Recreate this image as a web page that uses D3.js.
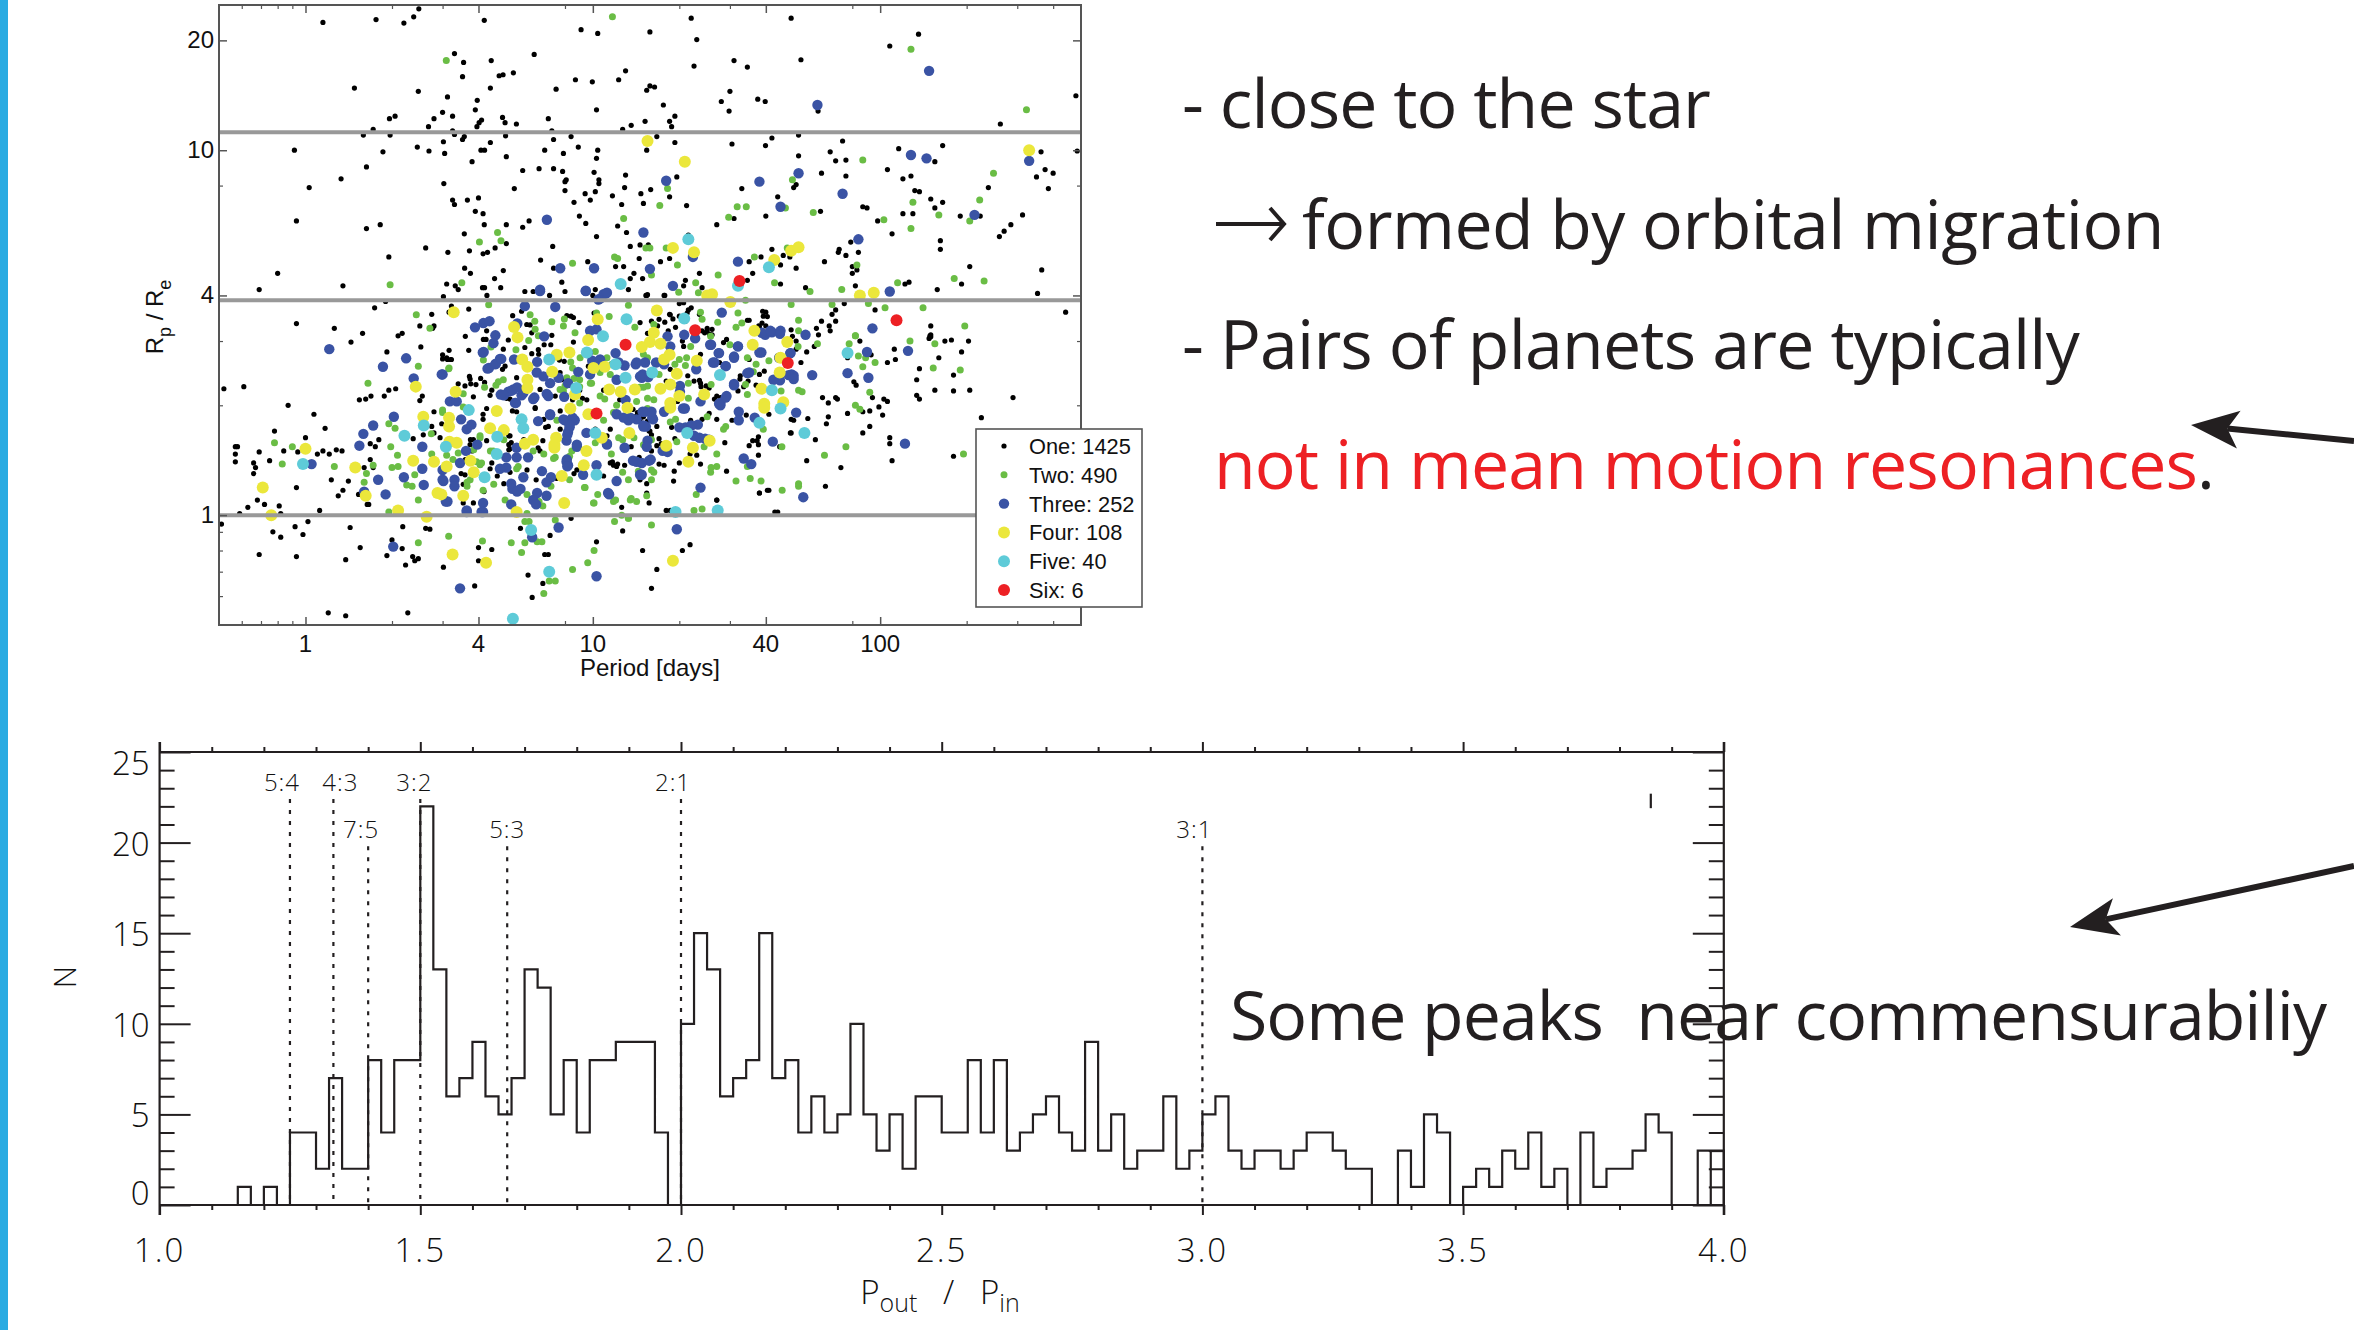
<!DOCTYPE html>
<html>
<head>
<meta charset="utf-8">
<script src="https://d3js.org/d3.v7.min.js"></script>
<style>
  html, body { margin: 0; padding: 0; background: #fff; }
  svg { display: block; }
  .sans { font-family: "Liberation Sans", Arial, sans-serif; fill: #111; }
  .idl { font-family: "Open Sans", sans-serif; font-weight: 300; fill: #111; }
  .slide { font-family: "Open Sans", sans-serif; fill: #231f20; }
</style>
</head>
<body>
<svg id="chart"></svg>
<script>
// planets per system size: [period in days, radius in earth radii]
let one_planets = [[1.15,22.4],[1.76,22.8],[2.2,22.3],[2.38,23.2],[2.48,24.4],[4.19,22.7],[9.1,21.4],[10.4,20.9],[15.8,21.1],[3.3,18.4],[3.55,17.4],[4.43,17.6],[6.25,18.3],[13,16.5],[1.48,14.8],[3.52,15.9],[4.4,14.8],[4.72,16],[4.87,16.1],[5.29,16.3],[8.7,15.6],[9.96,15.4],[12.3,15.6],[7.45,14.7],[15.4,14.6],[15.8,15],[2.47,14.5],[3.12,14],[3.96,13.7],[3.9,12.9],[10.3,12.9],[3,12.7],[2.05,12.4],[1.96,12.2],[3.25,12.4],[2.8,12.2],[4.85,12.3],[4.95,11.9],[4.1,12.1],[4.02,11.9],[3.95,11.6],[5.42,11.8],[7,12.2],[13.6,11.7],[2.68,11.6],[12.7,11.4],[1.72,11.4],[3.25,11.3],[7.2,11.3],
[1.59,11],[1.97,11],[3.3,11.05],[3.57,10.9],[3.52,10.7],[4.97,10.95],[8.4,10.9],[7.3,10.7],[3.02,10.55],[4.4,10.5],[2.45,10.2],[2.69,9.95],[3.05,9.8],[4.08,10],[4.2,10],[1.86,9.9],[0.915,10],[8.9,10.2],[6.8,10],[10.4,10],[7.9,9.8],[5,9.6],[15.4,10],[10.3,9.5],[3.8,9.3],[1.63,9],[5.7,8.8],[6.5,8.9],[7.3,8.9],[7.85,8.75],[10.1,8.7],[13,8.55],[1.33,8.35],[10.5,8.3],[10.5,8.1],[8.08,8.3],[8,8.2],[3.03,8.1],[1.03,7.9],[8,7.75],[5.33,7.85],[12.9,7.9],[10.2,7.7],[9.4,7.6],[14.7,7.6],[9.8,7.3],[3.66,7.3],[4,7.4],[3.25,7.3],[3.3,7.1],[11.7,7.5],[8.6,7.2],[12.6,7.1],[3.9,6.8],[4.15,6.7],[8.98,6.6],[0.93,6.4],[4.19,6.25],[1.63,6.1],[1.82,6.25],[5,6.25],[6,6.4],[5.7,6.15],[9.45,6.3],[12.2,6.2],[13.1,5.95],[3.57,5.9],[10.3,5.8],[2.62,5.4],[5,5.55],[7.25,5.45],[13.5,5.45],[14.6,5.5],[15.6,5.5],[4.57,5.4],[4.3,5.25],[4.15,5.2],[3.72,5.3],[3.13,5.25],[1.95,5.1],[14.5,5.05],[6.58,5],[9.6,4.95],[12,4.8],[12.8,4.8],[3.58,4.75],[7.3,4.75],[4.88,4.68],[3.75,4.6],[13.9,4.6],[0.8,4.6],[4.55,4.45],[13.5,4.45],[14.9,4.45],[7.8,4.35],[3.1,4.3],[3.32,4.25],[1.35,4.25],[4.13,4.2],[4.2,4.2],[4.78,4.2],[3.4,4.15],[0.69,4.15],[5.8,4.1],[6.2,4.1],[7.07,4],[10.2,4.15],[8,4.1],[4.28,4],[10,4],[13.3,4.15],[15.4,4],[3.02,3.97],[1.9,3.85],[1.74,3.7],[2.75,3.55],[0.93,3.35],[2.5,3.3],[2.8,3.3],[2.77,3.25],[1.26,3.25],[1.58,3.15],[2.1,3.1],[2.17,3.15],
[22,23],[49,23],[136,20.8],[108,19.3],[23,20.1],[53,17.7],[31,17.6],[22.5,17],[34.5,16.9],[30,14.5],[28,13.6],[37.5,13.8],[39.8,13.6],[29.8,12.8],[60.8,12.8],[17.6,13.3],[16.4,14.9],[15.2,12],[18.5,12],[19.3,12.4],[18.8,11.6],[480,14.1],[262,11.8],[16.7,10.9],[19.3,10.5],[30.5,10.4],[39.9,10.3],[42,10.8],[52,11],[52,9.65],[74,10.6],[67,9.9],[70,9.35],[76,9.4],[116,10.1],[165,10.3],[155,9.3],[363,9.9],[485,9.95],[375,8.85],[400,8.65],[350,8.45],[385,7.85],[238,7.9],[106,8.85],[120,8.35],[128,8.5],[132,7.75],[137,7.7],[150,7.35],[165,7.2],[155,6.95],[190,6.6],[223,6.6],[120,6.7],[130,6.7],[313,6.65],[285,6.25],[270,6],[260,5.8],[162,5.65],[162,5.35],[110,5.9],[98,6.4],[90,6.95],[87,7],[62.5,8.65],[76,8.5],[51,8.05],[50,7.9],[44,7.45],[40,6.6],[62,6.8],[33,7.85],[31,6.5],[27,6.25],[21.2,7.05],[18.5,7.45],[19.6,8.45],[20.9,9.4],[15.9,7.8],[15,7.15],[21.5,5.85],[79,5.6],[72,5.35],[71.5,5.25],[76,5.15],[84,5.25],[42,5.35],[46,5.15],[48.5,5.1],[18.5,5.05],[17.2,4.95],[64,4.95],[45,4.85],[51,4.75],[35,4.95],[38.5,5.1],[23.5,4.6],[21,4.4],[20.7,4.25],[24,4.2],[36,4.6],[34.5,4.4],[45,4.3],[55,4.2],[82,4.25],[80,4.8],[80,4.6],[83,4.7],[205,4.8],[192,4.3],[158,4.15],[126,4.35],[122,4.3],[365,4.7],[353,4.05],[442,3.6],[96,3.65],[70,3.65],[75,3.8],[68,3.55],[70,3.4],[66.5,3.3],[67,3.2],[62.5,3.4],[60,3.25],[150,3.3],[149,3.1],[150,3.12],[61,3.12],[49,3.22],[40,3.6],[40.5,3.5],[34.5,3.42],[40,3.3],[38,3.28],[25,3.2],[24,3.2],[24.5,3.16],[26,3.12],[23.5,3.55],[21.5,3.65],[18.5,3.55],[20,3.8],[19,3.45],[21,3.4],[16,3.4],[16.8,3.3],[18.3,3.2],[15.5,3.15],[15.3,4],[17.7,4],
[0.52,2.22],[0.61,2.25],[0.87,2],[1.07,1.89],[1.17,1.73],[0.78,1.7],[1.44,2.98],[1.92,2.8],[2.52,2.89],[3,2.68],[3.1,2.7],[3.2,2.67],[1.54,2.07],[1.62,2.08],[1.69,2.12],[1.88,2.12],[1.95,2.2],[2.06,2.22],[2.5,2.06],[2.55,2.12],[2.8,1.92],[2.37,1.62],[2.57,1.66],[2.75,1.75],[2.8,1.68],[1.68,1.57],[1.8,1.61],[1.75,1.54],[1.68,1.42],[1.6,1.35],[1.72,1.35],[1.15,1.5],[1.1,1.47],[1.21,1.47],[1.28,1.51],[1.34,1.5],[0.84,1.5],[0.94,1.49],[1,1.63],[0.57,1.54],[0.58,1.54],[0.57,1.47],[0.57,1.4],[0.69,1.49],[0.75,1.41],[0.66,1.39],[0.67,1.35],[0.66,1.3],[1.23,1.25],[1.41,1.24],[0.93,1.19],[1.35,1.17],[1.3,1.13],[1.53,1.14],[1.64,1.07],[1.66,1.07],[0.68,1.1],[0.72,1.07],[0.81,1.06],[0.63,1.05],[0.59,1.01],[1.12,1.03],[0.82,1.01],[0.51,0.945],[0.92,0.93],[1.02,0.96],[0.77,0.9],[0.82,0.87],[0.98,0.885],[1.43,0.925],[1.55,0.815],[0.69,0.78],[0.93,0.77],[1.38,0.755],[2.18,0.93],[2.62,0.92],[2.71,0.915],[2,0.855],[2.17,0.81],[1.92,0.775],[2.36,0.77],[2.4,0.75],[2.47,0.76],[2.23,0.73],[3.02,0.72],[4,0.815],[4.45,0.805],[4,0.75],[3.88,0.64],[5.6,0.92],[7.1,0.88],[10.3,0.845],[6.8,0.78],[7,0.78],[5.95,0.685],[6.7,0.65],[6.15,0.595],[1.2,0.54],[1.38,0.53],[2.27,0.54],[14.9,0.8],[12.7,0.905],[8.4,0.98],
[20.5,0.8],[21.8,0.83],[16.7,0.71],[16,0.63],[43,1.02],[18,1.03],[38,1.15],[40.5,1.17],[64.5,1.2],[27,1.1],[55.5,1.41],[73,1.35],[110,1.41],[180,1.45],[108,1.63],[108,1.57],[59.5,1.61],[48.7,1.68],[87,1.68],[92,1.75],[65,1.78],[56,1.84],[49,1.83],[225,1.85],[290,2.1],[205,2.2],[180,2.19],[155,2.2],[137,2.08],[134,2.13],[134,2.35],[137,2.52],[180,2.42],[160,2.7],[192,2.8],[203,3],[177,3.02],[168,3],[150,3.08],[148,3.05],[112,2.85],[113,2.67],[106,2.62],[85,3],[93,2.75],[94,2.1],[103,2.08],[106,2.05],[99,1.98],[102,1.88],[92,1.93],[87,1.92],[77,1.9],[70,2.1],[71,2.08],[66,2.03],[63,2.1],[66,1.86],[81,2.32],[82.5,2.27],[77,2.7],
[3.22,3.74],[3.7,3.67],[3.16,3.6],[5.26,3.52],[5.65,3.62],[8.4,3.51],[8.12,3.52],[8.95,3.37],[8.56,3.48],[5.89,3.33],[6.05,3.32],[6.13,3.16],[4.27,3.2],[4.16,3.03],[4.25,3.03],[5.08,3.02],[7.2,3.11],[8.56,2.98],[6.77,2.93],[7.14,2.93],[5.8,2.88],[4.88,2.85],[6.46,2.84],[6.13,2.77],[6.48,2.76],[3.6,3.09],[3.7,2.83],[3.16,2.83],[3,2.75],[3.12,2.67],[3.22,2.67],[4.95,2.56],[4.85,2.51],[7.65,2.66],[7.95,2.64],[3.72,2.4],[3.74,2.36],[4.07,2.37],[4.2,2.31],[3.4,2.29],[3.59,2.26],[3.76,2.29],[3.92,2.28],[4.45,2.2],[4.39,2.13],[3.84,2.11],[5.01,2.09],[5.15,2.08],[5.43,2.38],[7.69,2.46],[7.8,2.35],[6.55,2.21],[7.4,2.12],[9.2,2.09],[9.53,2.07],[10.1,3.58],[9.65,2.56],
[15.5,4.02],[17.8,4],[20.7,3.82],[22,3.7],[18.6,3.54],[20,3.51],[17.8,3.38],[17,3.44],[14.6,3.37],[19.4,3.27],[25,3.25],[26,3.23],[39,3.62],[39.2,3.51],[38.8,3.36],[37.8,3.3],[35,3.42],[49.5,3.09],[51,3],[25.5,3.13],[20.5,3],[20.7,2.9],[29.2,3.03],[28.5,2.97],[23.7,2.76],[35,2.67],[27.6,2.62],[39.5,2.48],[38,2.43],[18.6,2.51],[32.5,2.36],[37,2.27],[23.5,2.34],[23.7,2.3],[24.8,2.26],[27,2.12],[27.8,2.1],[21.3,3.58],
[4.27,1.96],[4.15,1.89],[4.15,1.83],[2.98,1.78],[5.25,1.93],[5.43,1.92],[6.3,1.96],[6.85,1.74],[7,1.75],[7.7,1.93],[2.94,1.63],[3.84,1.61],[3.74,1.56],[4.27,1.6],[5.15,1.65],[5.1,1.56],[5.15,1.52],[6.45,1.53],[6.55,1.5],[6.7,1.6],[4.39,1.34],[4.45,1.39],[3.48,1.3],[3.59,1.29],[5.15,1.31],[5.9,1.33],[6.35,1.25],[8.6,1.3],[8.8,1.33],[7.5,1.26],[3.54,1.215],[4.18,1.16],[3.54,1.08],[3.84,1.08],[11.7,1.4],[11.8,1.37],[10.9,1.28],[12.2,1.38],
[14.3,1.91],[15,1.86],[15.5,1.81],[18.8,1.74],[21.9,1.82],[27,1.83],[30.5,1.82],[34.2,1.88],[41,1.89],[50,1.82],[49,1.68],[37.7,1.64],[36,1.6],[37.3,1.6],[37.7,1.56],[35,1.55],[44.7,1.54],[28.8,1.58],[19.3,1.62],[15.7,1.7],[16,1.66],[17,1.62],[17.3,1.57],[16.7,1.55],[16,1.5],[13.6,1.54],[14.5,1.44],[12.9,1.37],[21.8,1.47],[23,1.46],[20,1.39],[23.7,1.38],[17,1.38],[17.7,1.37],[19.2,1.32],[29.2,1.32],[37.7,1.46],[19.1,1.24],[15.4,1.22],[14.6,1.25],[41,1.17],[38,1.15],[15.4,1.15],[27,1.1],[15.7,1.08],[18.6,1.03],[44,1.02],[12.6,1.05],
[5.1,1.65],[5.2,1.58],[5.1,1.51],[3.75,1.61],[3.8,1.5],[3.6,1.42],[4.65,1.28],[4.9,1.22],[5.75,1.61],[6.3,1.97],[6.75,1.83],[7.7,1.72],[11.5,1.72],[11.2,1.65],[14.2,1.87],[14.6,1.83],[13.8,1.95],[11.5,1.39],[12.1,1.36],[8.5,2.07],[9,2.2],[10.9,2.2],[12.4,2.07],[10.2,1.72],[22.5,2.33],[23.8,2.25],[25.4,2.23],[21.4,2.41],[26.5,2.08],[19.7,2.05],[18,2.33],[16.7,1.75],[15.8,1.7],[25.4,1.9],[24,1.83],[34.7,2.33],[32.6,2.41],[32,2.19],[33.5,2.25],[48,2.67],[53,2.62],[55.5,2.8],[59,2.9],[51,2.85]];

let two_planets = [[11.7,23.2],[3.09,17.6],[12.8,6.5],[4.66,5.95],[4.03,5.6],[4.79,5.65],[15.3,5.4],[11.9,5.1],[12.2,5.05],[8.5,4.9],[1.97,4.28],[3.5,4.33],[2.43,3.54],[2.71,3.25],
[128,18.9],[323,12.9],[87,9.4],[248,8.65],[18.2,7.85],[17.1,7.05],[49.5,8.3],[31.8,7],[34.2,7],[29.7,6.55],[46.8,6.95],[58.5,6.75],[103,6.45],[130,7.2],[160,6.65],[205,6.4],[222,7.3],[128,6.1],[15.8,5.4],[18,5.4],[47.5,5.4],[19.7,4.85],[16,4.55],[36.5,5.1],[22.8,4.33],[27.3,4.55],[19.9,4.08],[42.9,4.33],[73.5,4.15],[57,4.1],[83,4.85],[115,4.33],[181,4.45],[230,4.38],[68,3.78],[91,3.8],[104,3.7],[141,3.7],[52,3.42],[197,3.3],[82,3.1],[52,3.2],
[0.78,1.58],[0.9,1.54],[0.83,1.38],[1.26,1.36],[2.47,2.56],[3.15,2.52],[1.65,2.3],[3,1.94],[1.95,1.78],[2.05,1.73],[2.74,1.67],[1.98,1.54],[2.09,1.46],[1.72,1.37],[1.63,1.3],[1.6,1.23],[2,1.35],[2.1,1.36],[2.4,1.29],[2.25,1.21],[2.35,1.2],[2.47,1.1],[1.95,1.02],[2.75,1.47],[3.15,0.875],[4.13,0.85],[2.47,0.84],[5.2,0.84],[5.8,0.84],[6.4,0.845],[6.65,0.845],[5.65,0.79],[10.1,0.8],[9.6,0.74],[8.5,0.71],[7.05,0.66],[7.4,0.66],[6.75,0.61],[5.8,0.96],[6,0.96],[7.4,0.97],[11.9,0.96],[13.3,0.98],[12.6,1],[10.1,1.08],[12,1.1],[13.5,1.1],[9.4,1.19],
[16,0.94],[195,1.47],[76,1.54],[64,1.46],[52,1.22],[53.5,2.18],[60.5,2.95],[78,2.95],[82,3.1],[127,3],[155,2.95],[153,2.53],[190,2.5],[96,2.62],[87,2.55],[89,2.7],[84,2.73],[82,2],[85,1.95],[92,2.17],
[4.34,3.77],[11.4,3.5],[6.05,3.54],[6.28,3.4],[7.2,3.39],[7.96,3.45],[7.9,3.3],[6.3,3.23],[6.46,3.1],[8.67,3.16],[5.98,3.01],[4.42,2.89],[5.4,2.84],[4.16,2.66],[3.16,2.53],[9.03,2.7],[8.38,2.63],[8.5,2.53],[8.12,2.38],[9,2.35],[8,2.26],[7.69,2.21],[4.88,2.35],[4.69,2.32],[4.2,2.24],[4.6,2.27],[3.54,2.15],[9.9,2.3],[11.2,2.7],[11.65,2.59],[11.5,2.43],[10.6,2.46],[10.6,2.12],[10.2,2.81],[10.3,3.58],
[13.3,3.76],[23.3,4.07],[34,3.88],[49,3.78],[32,3.58],[27.2,3.38],[23.7,3.6],[24,3.44],[31.5,3.27],[33,3.36],[25.7,3.09],[21.9,2.9],[14,3.27],[16.3,3.33],[30,2.93],[37,2.59],[41,2.65],[34.5,2.7],[51.8,2.9],[52,2.2],[45.2,2.19],[36.2,2.47],[21.2,2.7],[20,2.67],[19.3,2.59],[21,2.57],[17,2.43],[15.5,2.7],[15,2.76],[21.5,2.3],[25.8,2.28],[34,2.28],[34.5,2.14],[14.6,2.24],[15.5,2.26],[15.5,2.09],[16.3,2.07],[21.5,2.09],
[3,1.91],[3.54,1.98],[4.05,1.63],[4.4,1.5],[3.26,1.42],[4.05,1.375],[3.94,1.4],[5.43,1.34],[4.52,1.215],[3.74,1.25],[3.65,1.2],[4.15,1.17],[4.95,1.1],[5.9,1.14],[6.5,1.09],[7.5,1.82],[10.9,1.82],[7.4,1.44],[8.45,1.5],[8.3,1.25],[7.15,1.2],[9.35,1.19],[10.4,1.14],[10.05,1.08],[11.8,1.09],[11.8,1.91],[10.2,1.58],[6.7,1.06],[5.9,1.01],
[15.5,1.96],[25,1.86],[19.4,1.83],[18.6,1.8],[29,1.75],[28.5,1.72],[39.2,1.72],[16,1.61],[19.6,1.59],[24.4,1.54],[15,1.56],[45.5,1.54],[27,1.47],[34.5,1.36],[27,1.36],[25.8,1.35],[25.7,1.31],[12.7,1.31],[14.4,1.32],[16.3,1.31],[16,1.33],[13.3,1.25],[16,1.25],[31.5,1.24],[35.3,1.26],[38.5,1.24],[45.6,1.17],[22.9,1.14],[15.4,1.13],[13.6,1.11],[14.2,1.09],[24,1.04],[22.5,1.03],[13.3,0.98],[52,1.2],
[9,2.25],[8.6,2.37],[7.9,2.19],[9,2.03],[11,2.08],[12.1,2],[14.2,2.05],[15,2.24],[9.8,2.3],[12.7,1.61],[13.9,1.63],[11.6,1.47],[12.3,1.63],[8.3,1.45],[7.3,1.43],[6.75,1.47],[6.2,1.5],[5.5,1.36],[4.9,1.61],[4.5,1.5],[4.05,1.65],[3.65,1.23],[3.4,1.48],[3.1,1.46],[4.1,1.39],[3.85,1.51]];

let three_planets = [[148,16.5],[60.5,13.3],[330,9.35],[128,9.7],[145,9.5],[52,8.65],[38,8.2],[18,8.25],[74,7.6],[45,7],[213,6.65],[84,5.7],[22.3,5.1],[32,4.95],[15.8,4.73],[19,4.25],[108,4.1],[94,3.25],[15,5.95],[6.92,6.45],[7.7,4.75],[10.1,4.75],[6.55,4.15],[9.45,4.12],[11.1,4.05],[10.6,3.92],
[1.21,2.85],[1.86,2.55],[2.24,2.69],[2.38,2.37],[3,2.43],[2.03,1.86],[1.72,1.76],[1.59,1.67],[1.54,1.55],[1.05,1.38],[1.79,1.25],[2.2,1.27],[2.55,1.34],[2.58,1.21],[1.6,1.16],[1.9,1.14],[2.55,1.54],[3,1.33],[3.02,1.24],[2.02,0.82],[3.45,0.63],[10.3,0.68],[6.15,0.87],[7.6,0.925],[11.4,1.14],[3.08,1.09],[3.64,1.03],[4.1,1.02],
[77,2.45],[91,2.38],[58,2.42],[90,2.8],[125,2.82],[122,1.57],[54,1.12],[19.6,0.915],[55,3.12],[44.8,3.14],[42,3.17],[39.8,3.12],
[3.89,3.27],[4.16,3.36],[4.37,3.4],[4.58,3.11],[4.51,2.96],[4.14,2.79],[4.75,2.68],[4.57,2.59],[4.3,2.52],[5.32,2.67],[6.4,2.63],[6.38,2.46],[6.73,2.4],[7.1,2.3],[7.6,2.38],[8.2,2.3],[5.8,3.74],[7.4,3.72],[6.77,3.09],[5.46,3.35],[2.98,2.43],[5.29,2.21],[5.08,2.18],[4.78,2.14],[5.73,2.16],[6.26,2.1],[6.91,2.15],[7,2.12],[7.95,2.11],[8.9,2.47],[9.78,3.2],[10.3,3.23],[12,2.78],[10.6,2.67],[9.78,2.43],[3.18,2.05],[3.36,2.05],[5.36,2.03],[10.9,4.03],[11.2,4.07],[9.45,4.11],[6.55,4.11],[10.45,3.9],
[28.1,3.59],[20.8,3.12],[18.2,3.09],[22.7,3.05],[25.8,2.93],[27.5,2.78],[26.5,2.62],[31,2.7],[32,2.9],[38.6,2.79],[38.7,3.16],[41.5,3.2],[45,3.2],[48.7,2.78],[49.2,2.43],[44.8,2.34],[35,2.46],[31,2.29],[29,2.56],[29.2,2.12],[16.6,2.62],[14.1,2.59],[12.9,2.57],[14.9,2.43],[15.6,2.39],[18.6,2.9],[17.7,2.59],[20.1,2.26],[20.1,2.18],[22.9,2.51],[23.7,2.05],[27.8,2.03],[44.5,2.7],[50,2.41],[13,2.07],
[3.48,1.83],[3.64,1.72],[3.78,1.77],[7.1,1.89],[6.45,1.81],[8,1.82],[8.65,1.82],[8.3,1.74],[8.2,1.69],[9.5,1.68],[8.1,1.6],[8.8,1.56],[11.2,1.56],[3.96,1.56],[3.62,1.5],[5.43,1.53],[5,1.44],[5.43,1.44],[5.95,1.44],[3.45,1.39],[5,1.35],[4.75,1.34],[8.12,1.42],[8.2,1.37],[6.65,1.32],[7.15,1.27],[6.9,1.23],[5.73,1.27],[3.3,1.25],[3.3,1.2],[3,1.25],[9.25,1.29],[10.3,1.37],[12.1,1.24],[5.2,1.22],[5.25,1.18],[5.6,1.18],[5.45,1.16],[6.4,1.15],[6.9,1.13],[11.3,1.15],[6.2,1.1],[6.35,1.07],[5.2,1.07],[4.15,1.08],[3.12,1.09],[3.64,1.02],[4.15,1.02],[12.1,1.89],
[15.2,1.92],[17.7,1.92],[20.9,1.96],[13.3,1.82],[14.2,1.83],[16.2,1.83],[15.3,1.75],[21,1.74],[23.2,1.77],[23.5,1.63],[25.4,1.61],[15.5,1.6],[12.9,1.53],[18.2,1.49],[32.2,1.92],[32.2,1.82],[36.6,1.85],[42.3,1.59],[33.5,1.43],[35.6,1.38],[14.2,1.4],[14.8,1.39],[15.7,1.41],[14.7,1.29],[23.7,1.19],[51,1.91],[27.8,2],
[15.2,2.62],[14.8,2.38],[16.1,1.85],[15,1.75],[15.9,1.42],[14.8,1.29],[25.6,2.93],[27.4,2.78],[31,2.72],[29,2.56],[26.2,2.62],[34.5,2.45],[31,2.27],[29,2.1],[27.5,2.02],[20.6,1.96],[16,1.92],[14.9,1.92],[32,2.9],[38,2.79],[48.7,2.78],[42.5,2.35],[48,2.42],[50,2.36],[22,1.76],[20,1.74],[22.5,1.65],[24.6,1.62],[17.5,1.5],
[4.17,2.8],[4.35,2.53],[4.6,2.6],[4.8,2.68],[5.2,2.19],[5.45,2.24],[4.9,2.13],[5.4,2.03],[5.65,2.13],[6.2,2.08],[7.1,1.88],[7.9,1.83],[8.5,1.85],[8.3,1.76],[8.15,1.66],[8.8,1.54],[8.1,1.4],[8.15,1.36],[9.6,2.78],[9.95,2.65],[10.6,2.65],[12.1,2.35],[14.6,2.4],[12.3,2.62],[14.2,2.62],[13.5,1.85],[12.8,1.85],[11.2,1.57],[13.8,1.41],[14.6,1.29],[15,1.76],[15.4,1.54]];

let four_planets = [[20.9,9.3],[330,10],[15.5,10.6],[19,5.4],[22.5,5.25],[42.8,5],[49,5.3],[52,5.42],[25,4],[85,4],[95,4.07],
[2.42,2.25],[2.57,1.86],[1,1.52],[1.49,1.35],[2.37,1.41],[2.8,1.4],[0.71,1.19],[1.62,1.13],[2.88,1.15],[0.76,1],[2.1,1.03],[2.64,0.99],[3.25,0.78],[4.25,0.74],[19,0.75],
[3.28,3.6],[5.32,3.28],[5.47,3.07],[10.4,3.44],[5.68,2.67],[5.92,2.55],[7.22,2.47],[7.49,2.75],[8.29,2.79],[9.63,3.02],[10.05,2.53],[11,2.55],[5.92,2.35],[5.92,2.23],[3.33,2.18],[11.4,2.21],[8.67,2.14],
[16.7,3.64],[26,4.03],[30.1,3.84],[36.5,3.2],[47.5,2.98],[36,2.93],[45,2.7],[44.7,2.46],[38.6,2.22],[23,2.65],[19.6,2.44],[17.7,2.67],[18.5,2.75],[16.3,3.16],[14.8,2.89],[15.8,2.98],[17.2,2.95],[17.2,2.22],[18.6,2.28],[14,2.21],[20,2.12],[24.4,2.14],[12.5,2.18],[18.6,2.03],[39.5,2.02],[46,2.04],
[4.63,1.93],[3.16,1.85],[3.16,1.75],[4.39,1.73],[4.9,1.71],[3.17,1.59],[3.36,1.58],[3.75,1.41],[3.1,1.36],[3.85,1.31],[3.54,1.13],[2.97,1.14],[5.8,1.57],[6.2,1.61],[7.45,1.63],[7.35,1.56],[7.35,1.53],[9.5,1.5],[9.3,1.37],[7.8,1.28],[7.95,1.08],[5.43,1.02],[8.35,1.96],[9.65,1.89],[10.75,1.63],
[18.6,1.97],[13.4,1.68],[13.2,1.97],[18,1.55],[22.3,1.53],[25.5,1.6],[21.5,1.4],[39.5,1.97]];

let five_planets = [[21.5,5.7],[41,4.78],[32,4.25],[12.5,4.3],[2.58,1.76],[2.21,1.65],[0.98,1.38],[5.27,0.52],[7.05,0.7],[6.1,0.91],[77,2.78],[54.5,1.68],
[10.85,3.09],[7.05,2.67],[9.53,2.79],[12,2.59],[8.75,2.23],
[13.1,3.44],[20.8,3.46],[13,2.38],[16.1,2.46],[27.7,2.42],[42,2.2],
[3.7,1.94],[5.65,1.83],[5.73,1.73],[4.65,1.64],[3.08,1.54],[4.63,1.47],[4.2,1.27],[10.2,1.68],[10.3,1.29],
[21.3,1.68],[38,1.79],[45,1.96],[19.4,1.02],[27.2,1.03]];

let six_planets = [[22.7,3.21],[13,2.93],[47.7,2.61],[114,3.42],[32.4,4.38],[10.3,1.9]];

let system_names = ['One: 1425', 'Two: 490', 'Three: 252', 'Four: 108', 'Five: 40', 'Six: 6'];
let system_colors = ['#000000', '#6abd45', '#3a53a4', '#ebe73b', '#5ecbd8', '#ed2024'];

let period_major = [1, 4, 10, 40, 100];
let period_minor = [0.6, 0.7, 0.8, 0.9, 2, 3, 8, 20, 30, 80, 200, 300, 400];
let radius_major = [1, 4, 10, 20];
let radius_minor = [0.6, 0.7, 0.8, 0.9, 2, 3, 8];
let size_lines = [1, 3.88, 11.2];  // earth, neptune, jupiter

// N per bin of Pout/Pin, bins 0.025 wide from 1.0
let bin_counts = [0,0,0,0,0,0,1,0,1,0,4,4,2,7,2,2,8,4,8,8,
    22,13,6,7,9,6,5,7,13,12,5,8,4,8,8,9,9,9,4,0,
    10,15,13,6,7,8,15,7,8,4,6,4,5,10,5,3,5,2,6,6,
    4,4,8,4,8,3,4,5,6,4,3,9,3,5,2,3,3,6,2,3,
    5,6,3,2,3,3,2,3,4,4,3,2,2,0,0,3,1,5,4,0,
    1,2,1,3,2,4,1,2,0,4,1,2,2,3,5,4,0,0,3,3];
let bin_width = 0.025;
let resonance_names = ['5:4', '4:3', '7:5', '3:2', '5:3', '2:1', '3:1'];
let resonance_values = [1.25, 4 / 3, 1.4, 1.5, 5 / 3, 2, 3];
let resonance_tops = [22.4, 22.4, 19.8, 22.4, 19.8, 22.4, 19.8];
let resonance_shift = [-8, 7, -7, -6, 0, -8, -8];
let ratio_major = [1, 1.5, 2, 2.5, 3, 3.5, 4];
let ratio_minor = d3.range(1.1, 4, 0.1).filter(d => Math.abs(d * 2 - Math.round(d * 2)) > 0.01);
let count_major = [0, 5, 10, 15, 20, 25];
let count_minor = d3.range(0, 25).filter(d => d % 5 !== 0);

let slide_lines = [
    { x: 1182, y: 128, w: 528, text: '- close to the star', color: '#231f20' },
    { x: 1302, y: 249, w: 862, text: 'formed by orbital migration', color: '#231f20' },
    { x: 1182, y: 369, w: 897, text: '- Pairs of planets are typically', color: '#231f20' },
    { x: 1214, y: 489, w: 1000, text: 'not in mean motion resonances', color: '#ed2024', tail: '.' },
    { x: 1230, y: 1040, w: 1096, text: 'Some peaks  near commensurabiliy', color: '#231f20' }
];

let width = 2354;
let height = 1330;
let svg = d3.select('#chart').attr('width', width).attr('height', height);

function draw_ticks(axis_fn, scale, values, size, color, stroke, translate) {
    let g = svg.append('g')
        .attr('transform', `translate(${translate[0]}, ${translate[1]})`)
        .call(axis_fn(scale).tickValues(values).tickSize(size).tickFormat(''));
    g.select('.domain').remove();
    g.selectAll('line').attr('stroke', color).attr('stroke-width', stroke);
}

function draw_scatter() {
    let left = 219, right = 1081, top = 5, bottom = 625;
    let x = d3.scaleLog().domain([0.5, 500]).range([left, right]);
    let y = d3.scaleLog().domain([0.5, 25]).range([bottom, top]);
    let frame_color = '#555';

    let groups = [one_planets, two_planets, three_planets, four_planets, five_planets, six_planets];
    let radii = [2.6, 3.5, 5.2, 6, 6, 6];
    groups.forEach((points, i) => {
        svg.append('g')
            .selectAll('circle')
            .data(points)
            .enter().append('circle')
            .attr('cx', d => x(d[0]))
            .attr('cy', d => y(d[1]))
            .attr('r', radii[i])
            .attr('fill', system_colors[i]);
    });

    // gray size lines sit on top of the points
    svg.append('g')
        .selectAll('line')
        .data(size_lines)
        .enter().append('line')
        .attr('x1', left)
        .attr('x2', right)
        .attr('y1', d => y(d))
        .attr('y2', d => y(d))
        .attr('stroke', '#999')
        .attr('stroke-width', 4);

    svg.append('rect')
        .attr('x', left).attr('y', top)
        .attr('width', right - left).attr('height', bottom - top)
        .attr('fill', 'none').attr('stroke', frame_color).attr('stroke-width', 2);

    draw_ticks(d3.axisBottom, x, period_major, -8, frame_color, 1.5, [0, bottom]);
    draw_ticks(d3.axisBottom, x, period_minor, -4, frame_color, 1.2, [0, bottom]);
    draw_ticks(d3.axisTop, x, period_major, -8, frame_color, 1.5, [0, top]);
    draw_ticks(d3.axisTop, x, period_minor, -4, frame_color, 1.2, [0, top]);
    draw_ticks(d3.axisLeft, y, radius_major, -8, frame_color, 1.5, [left, 0]);
    draw_ticks(d3.axisLeft, y, radius_minor, -4, frame_color, 1.2, [left, 0]);
    draw_ticks(d3.axisRight, y, radius_major, -8, frame_color, 1.5, [right, 0]);
    draw_ticks(d3.axisRight, y, radius_minor, -4, frame_color, 1.2, [right, 0]);

    svg.append('g')
        .selectAll('text')
        .data(period_major)
        .enter().append('text')
        .attr('class', 'sans')
        .attr('x', d => x(d))
        .attr('y', bottom + 27)
        .attr('text-anchor', 'middle')
        .attr('font-size', 24)
        .text(d => d);
    svg.append('g')
        .selectAll('text')
        .data(radius_major)
        .enter().append('text')
        .attr('class', 'sans')
        .attr('x', left - 5)
        .attr('y', d => y(d) + 8)
        .attr('text-anchor', 'end')
        .attr('font-size', 24)
        .text(d => d);

    svg.append('text')
        .attr('class', 'sans')
        .attr('x', 650).attr('y', 676)
        .attr('text-anchor', 'middle')
        .attr('font-size', 24)
        .text('Period [days]');

    let y_label = svg.append('text')
        .attr('class', 'sans')
        .attr('transform', 'translate(163, 317) rotate(-90)')
        .attr('text-anchor', 'middle')
        .attr('font-size', 24);
    y_label.append('tspan').text('R');
    y_label.append('tspan').attr('dy', 8).attr('font-size', 18).text('p');
    y_label.append('tspan').attr('dy', -8).text(' / R');
    y_label.append('tspan').attr('dy', 8).attr('font-size', 18).text('e');

    // legend
    let legend_row = d3.scalePoint().domain(system_names).range([446, 590]);
    svg.append('rect')
        .attr('x', 976).attr('y', 429)
        .attr('width', 166).attr('height', 178)
        .attr('fill', '#fff').attr('stroke', frame_color).attr('stroke-width', 1.6);
    system_names.forEach((name, i) => {
        svg.append('circle')
            .attr('cx', 1004).attr('cy', legend_row(name))
            .attr('r', radii[i]).attr('fill', system_colors[i]);
        svg.append('text')
            .attr('class', 'sans')
            .attr('x', 1029).attr('y', legend_row(name) + 8)
            .attr('font-size', 21.8)
            .text(name);
    });
}

function draw_histogram() {
    let left = 159.6, right = 1723.8, top = 752, bottom = 1205;
    let x = d3.scaleLinear().domain([1, 4]).range([left, right]);
    let y = d3.scaleLinear().domain([0, 25]).range([bottom, top]);
    let line_color = '#231f20';

    // bins as a stepped outline
    let steps = bin_counts.map((d, i) => [1 + i * bin_width, d]);
    steps.push([4, 0]);
    let outline = d3.line().x(d => x(d[0])).y(d => y(d[1])).curve(d3.curveStepAfter);
    svg.append('path')
        .attr('d', outline(steps))
        .attr('fill', 'none')
        .attr('stroke', line_color)
        .attr('stroke-width', 2.2);
    svg.append('line')  // last two bins are split by a full height line
        .attr('x1', x(3.975)).attr('x2', x(3.975))
        .attr('y1', y(0)).attr('y2', y(3))
        .attr('stroke', line_color).attr('stroke-width', 2.2);
    svg.append('line')  // short mark near the top right
        .attr('x1', x(3.86)).attr('x2', x(3.86))
        .attr('y1', y(22.7)).attr('y2', y(21.9))
        .attr('stroke', line_color).attr('stroke-width', 2.2);

    // resonances
    resonance_names.forEach((name, i) => {
        svg.append('line')
            .attr('x1', x(resonance_values[i])).attr('x2', x(resonance_values[i]))
            .attr('y1', y(resonance_tops[i])).attr('y2', y(0))
            .attr('stroke', line_color)
            .attr('stroke-width', 2.2)
            .attr('stroke-dasharray', '4 7');
        svg.append('text')
            .attr('class', 'idl')
            .attr('x', x(resonance_values[i]) + resonance_shift[i])
            .attr('y', y(resonance_tops[i]) - 8)
            .attr('text-anchor', 'middle')
            .attr('font-size', 24)
            .attr('letter-spacing', 1)
            .text(name);
    });

    // frame
    svg.append('g').selectAll('line')
        .data([top, bottom])
        .enter().append('line')
        .attr('x1', left).attr('x2', right)
        .attr('y1', d => d).attr('y2', d => d)
        .attr('stroke', line_color).attr('stroke-width', 2.2);
    svg.append('g').selectAll('line')
        .data([left, right])
        .enter().append('line')
        .attr('x1', d => d).attr('x2', d => d)
        .attr('y1', top - 10).attr('y2', bottom + 10)
        .attr('stroke', line_color).attr('stroke-width', 2.2);

    draw_ticks(d3.axisTop, x, ratio_major, 10, line_color, 2, [0, top]);
    draw_ticks(d3.axisTop, x, ratio_minor, 5, line_color, 2, [0, top]);
    draw_ticks(d3.axisBottom, x, ratio_major, 10, line_color, 2, [0, bottom]);
    draw_ticks(d3.axisBottom, x, ratio_minor, 5, line_color, 2, [0, bottom]);
    draw_ticks(d3.axisLeft, y, count_major, -31, line_color, 2, [left, 0]);
    draw_ticks(d3.axisLeft, y, count_minor, -15, line_color, 2, [left, 0]);
    draw_ticks(d3.axisRight, y, count_major, -31, line_color, 2, [right, 0]);
    draw_ticks(d3.axisRight, y, count_minor, -15, line_color, 2, [right, 0]);

    svg.append('g')
        .selectAll('text')
        .data(ratio_major)
        .enter().append('text')
        .attr('class', 'idl')
        .attr('x', d => x(d))
        .attr('y', bottom + 57)
        .attr('text-anchor', 'middle')
        .attr('font-size', 33)
        .attr('letter-spacing', 2)
        .text(d => d.toFixed(1));
    svg.append('g')
        .selectAll('text')
        .data(count_major)
        .enter().append('text')
        .attr('class', 'idl')
        .attr('x', left - 10)
        .attr('y', d => {
            // end labels are pulled inside the frame
            if (d === 25) return y(d) + 23;
            if (d === 0) return y(d);
            return y(d) + 13;
        })
        .attr('text-anchor', 'end')
        .attr('font-size', 33)
        .text(d => d);

    let x_label = svg.append('text')
        .attr('class', 'idl')
        .attr('x', 940).attr('y', 1304)
        .attr('text-anchor', 'middle')
        .attr('font-size', 33)
        .attr('xml:space', 'preserve');
    x_label.append('tspan').text('P');
    x_label.append('tspan').attr('dy', 8).attr('font-size', 25).text('out');
    x_label.append('tspan').attr('dy', -8).text('   /   P');
    x_label.append('tspan').attr('dy', 8).attr('font-size', 25).text('in');

    svg.append('text')
        .attr('class', 'idl')
        .attr('transform', 'translate(76, 977) rotate(-90)')
        .attr('text-anchor', 'middle')
        .attr('font-size', 31)
        .text('N');
}

function draw_arrow(x1, y1, x2, y2, head, half) {
    let len = Math.hypot(x2 - x1, y2 - y1);
    let ux = (x1 - x2) / len, uy = (y1 - y2) / len;
    let back = [x2 + ux * head, y2 + uy * head];
    let notch = [x2 + ux * head * 0.76, y2 + uy * head * 0.76];
    svg.append('line')
        .attr('x1', x1).attr('y1', y1)
        .attr('x2', notch[0]).attr('y2', notch[1])
        .attr('stroke', '#231f20').attr('stroke-width', 6);
    svg.append('path')
        .attr('d', d3.line()([
            [x2, y2],
            [back[0] - uy * half, back[1] + ux * half],
            notch,
            [back[0] + uy * half, back[1] - ux * half]
        ]) + 'Z')
        .attr('fill', '#231f20');
}

function draw_slide() {
    svg.append('rect').attr('x', 0).attr('y', 0).attr('width', 8).attr('height', height).attr('fill', '#29abe2');

    slide_lines.forEach(d => {
        let label = svg.append('text')
            .attr('class', 'slide')
            .attr('x', d.x).attr('y', d.y)
            .attr('font-size', 68)
            .attr('xml:space', 'preserve');
        label.append('tspan').style('fill', d.color).text(d.text);
        if (d.tail) label.append('tspan').style('fill', '#231f20').text(d.tail);
        // squeeze by letter spacing so the line ends where it should
        let natural = label.node().getComputedTextLength();
        let chars = d.text.length + (d.tail ? d.tail.length : 0);
        label.attr('letter-spacing', (d.w - natural) / chars);
    });

    // the little arrow in the text
    svg.append('path')
        .attr('d', 'M1216,224 H1282 M1270,208 L1284,224 L1270,240')
        .attr('fill', 'none').attr('stroke', '#231f20').attr('stroke-width', 4);

    draw_arrow(2354, 441, 2191, 425, 48, 19);
    draw_arrow(2354, 866, 2070, 927, 48, 19);
}

draw_scatter();
draw_histogram();
draw_slide();
</script>
</body>
</html>
